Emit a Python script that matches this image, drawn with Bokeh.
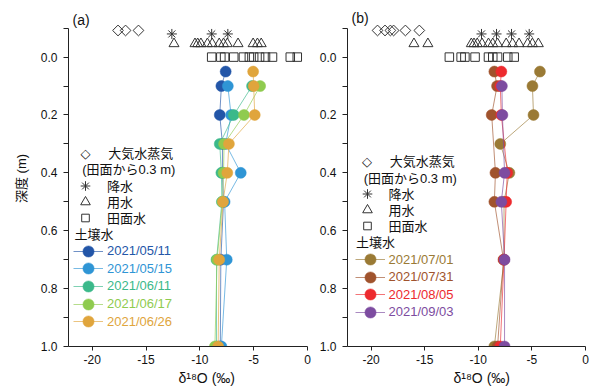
import numpy as np
from bokeh.plotting import figure
from bokeh.models import Range1d, FixedTicker, PrintfTickFormatter, Legend, LegendItem, Label, Title
from bokeh.layouts import row
from bokeh.embed import file_html
from bokeh.resources import INLINE

# ---------------- data ----------------
DEPTH_TICKS = [0.0, 0.2, 0.4, 0.6, 0.8, 1.0]
DEPTH_MINOR = [-0.1, 0.1, 0.3, 0.5, 0.7, 0.9]
D18O_TICKS = [-20, -15, -10, -5, 0]

# plotting depth used for the above-ground samples
VAPOR_DEPTH = -0.092
PRECIP_DEPTH = -0.08
IRRIG_DEPTH = -0.046
POND_DEPTH = 0.0

# panel (a)
vapor_a = [-17.6, -16.9, -15.7]
precip_a = [-12.6, -8.9, -7.4]
irrig_a = [-12.4, -10.45, -10.2, -9.9, -9.3, -8.85, -8.2, -7.8, -7.45, -6.45, -5.05, -4.65, -4.3]
pond_a = [-8.9, -8.05, -7.7, -6.85, -5.95, -5.4, -5.0, -4.45, -3.9, -3.25, -1.6, -0.95]

d0511_depth = [0.05, 0.1, 0.2, 0.3, 0.4, 0.5, 0.7, 1.0]
d0511_o18 = [-7.6, -8.0, -8.15, -7.9, -7.9, -7.8, -8.05, -8.1]
d0515_depth = [0.1, 0.2, 0.3, 0.4, 0.5, 0.7, 1.0]
d0515_o18 = [-7.4, -7.1, -7.6, -6.2, -7.7, -7.5, -8.0]
d0611_depth = [0.1, 0.2, 0.3, 0.4, 0.5, 0.7, 1.0]
d0611_o18 = [-5.15, -6.85, -8.15, -8.0, -7.95, -8.45, -8.45]
d0617_depth = [0.1, 0.2, 0.3, 0.4, 0.5, 0.7, 1.0]
d0617_o18 = [-4.4, -5.9, -7.75, -7.8, -7.9, -8.4, -8.6]
d0626_depth = [0.05, 0.1, 0.2, 0.3, 0.4, 0.5, 0.7, 1.0]
d0626_o18 = [-5.05, -5.0, -4.9, -7.3, -7.45, -7.85, -8.2, -8.3]

# panel (b)
vapor_b = [-19.4, -18.7, -18.2, -17.9, -16.8, -15.5]
precip_b = [-9.7, -8.3, -6.9, -5.25]
irrig_b = [-16.0, -14.7, -10.65, -10.4, -10.1, -9.65, -9.05, -8.65, -8.2, -7.4, -6.8, -6.2, -5.4, -4.95, -4.4]
pond_b = [-12.7, -11.6, -11.25, -10.3, -9.05, -8.65, -8.2, -7.25, -6.65]

d0701_depth = [0.05, 0.1, 0.2, 0.3, 0.4, 0.5, 0.7, 1.0]
d0701_o18 = [-4.25, -4.95, -4.85, -7.95, -7.1, -7.6, -7.6, -8.5]
d0731_depth = [0.05, 0.1, 0.2, 0.4, 0.5, 0.7, 1.0]
d0731_o18 = [-8.5, -8.25, -8.75, -8.4, -8.5, -7.65, -8.2]
d0805_depth = [0.05, 0.1, 0.2, 0.4, 0.5, 0.7, 1.0]
d0805_o18 = [-7.85, -7.95, -7.85, -7.3, -7.4, -7.6, -7.95]
d0903_depth = [0.1, 0.2, 0.4, 0.5, 0.7, 1.0]
d0903_o18 = [-7.8, -7.75, -7.55, -7.85, -7.55, -7.55]

labels_a = ["2021/05/11", "2021/05/15", "2021/06/11", "2021/06/17", "2021/06/26"]
colors_a = ["#2356a8", "#2f95d5", "#3bb98a", "#8fcb4f", "#e0a53c"]
labels_b = ["2021/07/01", "2021/07/31", "2021/08/05", "2021/09/03"]
colors_b = ["#9a7a35", "#a0532d", "#ed2a2e", "#7d4ca0"]

soil_a = list(zip(labels_a, colors_a,
                  [d0511_depth, d0515_depth, d0611_depth, d0617_depth, d0626_depth],
                  [d0511_o18, d0515_o18, d0611_o18, d0617_o18, d0626_o18]))
soil_b = list(zip(labels_b, colors_b,
                  [d0701_depth, d0731_depth, d0805_depth, d0903_depth],
                  [d0701_o18, d0731_o18, d0805_o18, d0903_o18]))

FONT = "Liberation Sans, Noto Sans CJK JP, sans-serif"
HEIGHT = 387
TOP, BOTTOM = 10, 41
FRAME_BOTTOM = HEIGHT - BOTTOM   # canvas y of frame bottom
MARK = "#333333"
TXT = "#111111"


def sy(ref_y, h=0.0):
    """screen offset (from frame bottom) for a canvas y (centre of an item of height h)."""
    return FRAME_BOTTOM - ref_y - h / 2.0


def make_legend(p, items, x, y, gw, gh, standoff, color=TXT):
    lg = Legend(items=items, location=(x, y), orientation="vertical",
                glyph_width=gw, glyph_height=gh, label_standoff=standoff,
                label_text_font=FONT, label_text_font_size="13px",
                label_text_color=color, label_height=gh, label_text_baseline="middle",
                padding=0, margin=0, spacing=0, border_line_color=None,
                background_fill_alpha=0)
    p.add_layout(lg)


def text_label(p, x, y, text, size="13px", font=FONT):
    p.add_layout(Label(x=x, y=y, x_units="screen", y_units="screen", text=text,
                       text_font=font, text_font_size=size, text_color=TXT,
                       text_baseline="middle", text_align="left"))


def panel(tag, vapor, precip, irrig, pond, soil, width, border_left, border_right,
          ylabel, dx, dy, xtitle_offset, tag_y):
    p = figure(width=width, height=HEIGHT,
               min_border_left=border_left, min_border_right=border_right,
               min_border_top=TOP, min_border_bottom=BOTTOM,
               x_range=Range1d(-22.2, 0), y_range=Range1d(1.0, -0.161),
               output_backend="svg", toolbar_location=None)
    p.outline_line_color = None
    p.xgrid.visible = False
    p.ygrid.visible = False

    yax = p.yaxis[0]
    yax.bounds = (-0.1, 1.0)
    yax.ticker = FixedTicker(ticks=DEPTH_TICKS, minor_ticks=DEPTH_MINOR)
    yax.formatter = PrintfTickFormatter(format="%.1f")
    yax.major_tick_out = 5
    yax.major_tick_in = 0
    yax.minor_tick_out = 5
    yax.minor_tick_in = 0
    yax.major_label_standoff = 6
    yax.major_label_text_font = FONT
    yax.major_label_text_font_size = "12px"
    yax.major_label_text_color = TXT
    yax.axis_line_color = "#222222"
    yax.major_tick_line_color = "#222222"
    yax.minor_tick_line_color = "#222222"
    if ylabel:
        yax.axis_label = "深度 (m)"
        yax.axis_label_text_font = FONT
        yax.axis_label_text_font_size = "13px"
        yax.axis_label_text_font_style = "normal"
        yax.axis_label_text_color = TXT
        yax.axis_label_standoff = 9

    xax = p.xaxis[0]
    xax.ticker = FixedTicker(ticks=D18O_TICKS)
    xax.formatter = PrintfTickFormatter(format="%d")
    xax.major_tick_out = 4
    xax.major_tick_in = 0
    xax.minor_tick_line_color = None
    xax.major_label_standoff = 4
    xax.major_label_text_font = FONT
    xax.major_label_text_font_size = "12px"
    xax.major_label_text_color = TXT
    xax.axis_line_color = "#222222"
    xax.major_tick_line_color = "#222222"

    p.add_layout(Title(text="δ¹⁸O (‰)", align="left", offset=xtitle_offset, standoff=2,
                       text_font=FONT, text_font_size="14px", text_font_style="normal",
                       text_color=TXT),
                 "below")

    # above-ground samples
    p.scatter(vapor, [VAPOR_DEPTH] * len(vapor), marker="square", angle=np.pi / 4,
              size=7.6, fill_color=None, line_color=MARK, line_width=1)
    r_p = p.scatter(precip, [PRECIP_DEPTH] * len(precip), marker="asterisk",
                    size=10, line_color=MARK, line_width=1)
    r_i = p.scatter(irrig, [IRRIG_DEPTH] * len(irrig), marker="triangle",
                    size=10, fill_color=None, line_color=MARK, line_width=1)
    r_s = p.scatter(pond, [POND_DEPTH] * len(pond), marker="square",
                    size=8.5, fill_color=None, line_color=MARK, line_width=1)

    soil_r = []
    for lab, col, dep, val in soil:
        lr = p.line(val, dep, line_color=col, line_width=1, line_alpha=0.65)
        sr = p.scatter(val, dep, marker="circle", size=11, fill_color=col,
                       line_color=col, line_width=0.5)
        soil_r.append((lab, col, lr, sr))

    # panel tag
    text_label(p, 4, sy(tag_y), tag, size="14px")

    # legends
    text_label(p, 12 + dx, sy(152.7 + dy), "◇", size="13px", font="DejaVu Sans")
    text_label(p, 39.7 + dx, sy(152.7 + dy), "大気水蒸気")
    text_label(p, 13.7 + dx, sy(169.3 + dy), "(田面から0.3 m)")
    make_legend(p, [LegendItem(label="降水", renderers=[r_p])],
                5 + dx, sy(185 + dy, 25), 24, 25, 10)
    make_legend(p, [LegendItem(label="用水", renderers=[r_i])],
                5 + dx, sy(201 + dy, 25), 24, 25, 10)
    make_legend(p, [LegendItem(label="田面水", renderers=[r_s])],
                5 + dx, sy(217.3 + dy, 19), 24, 19, 10)
    text_label(p, 6 + dx, sy(234 + dy), "土壌水")
    for i, (lab, col, lr, sr) in enumerate(soil_r):
        make_legend(p, [LegendItem(label=lab, renderers=[lr, sr])],
                    5 + dx, sy(250.7 + dy + 17.6 * i, 28), 30, 28, 4, color=col)
    return p


pa = panel("(a)", vapor_a, precip_a, irrig_a, pond_a, soil_a, 316, 68, 9, True, 0, 0, 110, 19)
pb = panel("(b)", vapor_b, precip_b, irrig_b, pond_b, soil_b, 279, 30, 10, False, 2.5, 8.3, 106, 17.5)

layout = row(pa, pb)
open("out.html", "w").write(file_html(layout, INLINE))
